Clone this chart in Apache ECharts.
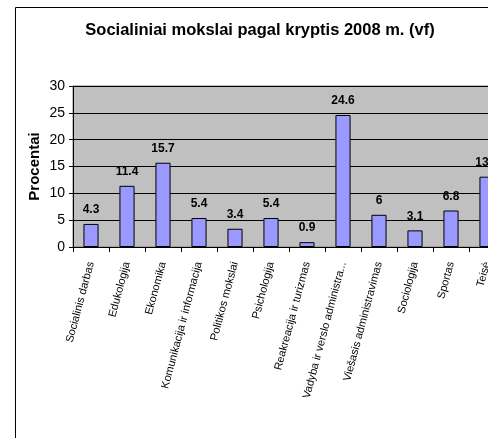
<!DOCTYPE html>
<html>
<head>
<meta charset="utf-8">
<script src="https://cdn.jsdelivr.net/npm/echarts@6/dist/echarts.min.js"></script>
<style>
  html, body { margin: 0; padding: 0; overflow: hidden; background: #fff; }
  #chart { width: 520px; height: 438px; }
</style>
</head>
<body>
<div id="chart"></div>
<script>
const categories = [
  "Socialinis darbas", "Edukologija", "Ekonomika", "Komunikacija ir informacija",
  "Politikos mokslai", "Psichologija", "Reakreacija ir turizmas",
  "Vadyba ir verslo administravimas", "Viešasis administravimas",
  "Sociologija", "Sportas", "Teisė"
];
const values = [4.3, 11.4, 15.7, 5.4, 3.4, 5.4, 0.9, 24.6, 6, 3.1, 6.8, 13.1];
const yTicks = { min: 0, max: 30, step: 5 };

const chart = echarts.init(document.getElementById("chart"));

const options = {
  animation: false,
  textStyle: { fontFamily: "Liberation Sans, Arial, sans-serif" },
  title: {
    text: "Socialiniai mokslai pagal kryptis 2008 m. (vf)",
    left: "center",
    top: 17,
    textStyle: { fontSize: 16.5, fontWeight: "bold", color: "#000" },
  },
  graphic: [
    {
      type: "rect",
      shape: { x: 15.5, y: 7.5, width: 520, height: 450 },
      style: { fill: "none", stroke: "#000", lineWidth: 1 },
      silent: true,
      z: -10,
    },
  ],
  grid: {
    left: 73,
    top: 86,
    width: 432,
    height: 161,
    show: true,
    backgroundColor: "#c0c0c0",
    borderColor: "#808080",
    borderWidth: 1,
  },
  xAxis: {
    type: "category",
    data: categories,
    axisLine: { lineStyle: { color: "#000" } },
    axisTick: { show: true, length: 5, lineStyle: { color: "#000" } },
    axisLabel: {
      interval: 0,
      rotate: 75,
      margin: 15,
      fontSize: 11,
      color: "#000",
      width: 145,
      overflow: "truncate",
    },
  },
  yAxis: {
    type: "value",
    min: yTicks.min,
    max: yTicks.max,
    interval: yTicks.step,
    name: "Procentai",
    nameLocation: "middle",
    nameGap: 31,
    nameMoveOverlap: false,
    nameTextStyle: { fontSize: 15, fontWeight: "bold", color: "#000" },
    axisLine: { show: true, lineStyle: { color: "#000" } },
    axisTick: { show: true, length: 4, lineStyle: { color: "#000" } },
    axisLabel: { fontSize: 14, color: "#000", margin: 8 },
    splitLine: { lineStyle: { color: "#000", width: 1 } },
  },
  series: [
    {
      type: "bar",
      data: values,
      barWidth: "42%",
      itemStyle: { color: "#9999ff", borderColor: "#000", borderWidth: 1 },
      label: {
        show: true,
        position: "top",
        distance: 8,
        fontSize: 12,
        fontWeight: "bold",
        color: "#000",
      },
    },
  ],
};

chart.setOption(options);
</script>
</body>
</html>
